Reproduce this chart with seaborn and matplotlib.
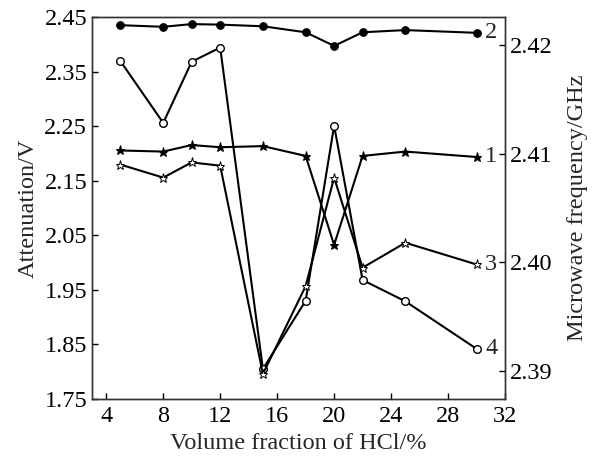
import matplotlib
matplotlib.use("Agg")
import matplotlib.pyplot as plt
import seaborn as sns
import pandas as pd

# Data
hcl = [5, 8, 10, 12, 15, 18, 20, 22, 25, 30]
att_2 = [2.435, 2.432, 2.437, 2.436, 2.433, 2.422, 2.397, 2.422, 2.426, 2.421]
att_4 = [2.369, 2.256, 2.368, 2.394, 1.805, 1.930, 2.251, 1.968, 1.929, 1.842]
freq_1 = [2.4103, 2.4102, 2.4108, 2.4106, 2.4107, 2.4098, 2.4016, 2.4098, 2.4102, 2.4097]
freq_3 = [2.4090, 2.4078, 2.4092, 2.4089, 2.3897, 2.3978, 2.4078, 2.3995, 2.4018, 2.3998]
left_ticks = [1.75, 1.85, 1.95, 2.05, 2.15, 2.25, 2.35, 2.45]
right_ticks = [2.39, 2.40, 2.41, 2.42]
x_ticks = [4, 8, 12, 16, 20, 24, 28, 32]
curve_labels = ["1", "2", "3", "4"]

sns.set_style("ticks")
plt.rcParams["font.family"] = ["Liberation Serif", "DejaVu Serif"]

fig = plt.figure(figsize=(5.94, 4.58), dpi=100)
ax = fig.add_axes([0.1549, 0.1288, 0.6953, 0.8341])
ax2 = ax.twinx()

df = pd.DataFrame({"x": hcl, "a2": att_2, "a4": att_4, "f1": freq_1, "f3": freq_3})

lw = 1.5
sns.lineplot(data=df, x="x", y="a2", ax=ax, color="black", lw=lw, marker="o",
             markersize=5.5, markerfacecolor="black", markeredgecolor="black")
sns.lineplot(data=df, x="x", y="a4", ax=ax, color="black", lw=lw, marker="o",
             markersize=5.5, markerfacecolor="white", markeredgecolor="black", markeredgewidth=1.0)
sns.lineplot(data=df, x="x", y="f1", ax=ax2, color="black", lw=lw, marker="*",
             markersize=6.5, markerfacecolor="black", markeredgecolor="black")
sns.lineplot(data=df, x="x", y="f3", ax=ax2, color="black", lw=lw, marker="*",
             markersize=6.5, markerfacecolor="white", markeredgecolor="black", markeredgewidth=0.7)

ax.set_xlim(3, 32)
ax.set_ylim(1.75, 2.45)
ax2.set_ylim(2.3874, 2.4226)
ax.set_xticks(x_ticks)
ax.set_yticks(left_ticks)
ax.set_yticklabels([f"{v:.2f}" for v in left_ticks])
ax2.set_yticks(right_ticks)
ax2.set_yticklabels([f"{v:.2f}" for v in right_ticks])

fs = 17.5
ax.set_xlabel("Volume fraction of HCl/%", fontsize=fs, labelpad=4)
ax.set_ylabel("Attenuation/V", fontsize=fs)
ax2.set_ylabel("Microwave frequency/GHz", fontsize=fs, labelpad=10)
for a in (ax, ax2):
    a.tick_params(direction="in", length=4, width=1, labelsize=fs, colors="black")
    for s in a.spines.values():
        s.set_linewidth(1.0)
        s.set_color("#333333")
ax.tick_params(axis="x", pad=5)

# curve labels at the right end
ax2.text(30.6, freq_1[-1], curve_labels[0], fontsize=fs, va="center", ha="left")
ax.text(30.6, att_2[-1], curve_labels[1], fontsize=fs, va="center", ha="left")
ax2.text(30.6, freq_3[-1], curve_labels[2], fontsize=fs, va="center", ha="left")
ax.text(30.6, att_4[-1], curve_labels[3], fontsize=fs, va="center", ha="left")

fig.savefig("out.png", dpi=100)
